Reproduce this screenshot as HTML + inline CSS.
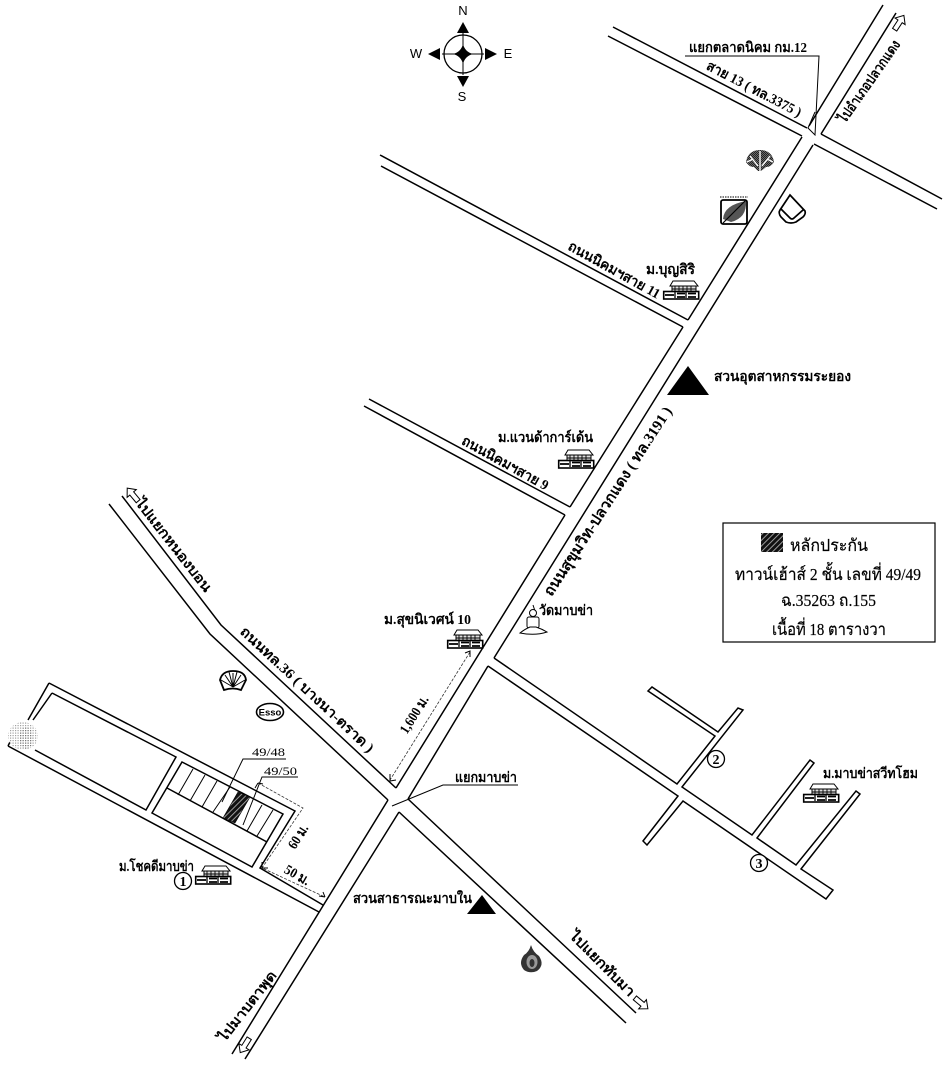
<!DOCTYPE html>
<html><head><meta charset="utf-8"><style>
html,body{margin:0;padding:0;background:#fff}
svg{display:block}
text{font-family:"Liberation Serif","Noto Serif CJK SC",serif;fill:#000}
.b{font-weight:bold;font-size:14px}
.r{font-size:17px;stroke:#000;stroke-width:.2}
.rd{fill:none;stroke:#000;stroke-width:1.5}
.th{fill:none;stroke:#000;stroke-width:1}
.d{fill:none;stroke:#333;stroke-width:.8;stroke-dasharray:3 1.5}
.ar{fill:#fff;stroke:#000;stroke-width:1}
</style></head><body>
<svg width="950" height="1075" viewBox="0 0 950 1075" xmlns="http://www.w3.org/2000/svg">
<defs>
<g id="h">
<path d="M7 6L10 1H31L35 6Z" fill="#fff" stroke="#000" stroke-width="1"/>
<rect x="9" y="6" width="24" height="6" fill="#ddd" stroke="#000"/>
<path d="M12 6v6M16 6v6M20 6v6M24 6v6M28 6v6M9 9h24" stroke="#000" stroke-width=".9"/>
<rect x="0.700" y="11.500" width="35" height="7.500" fill="#fff" stroke="#000" stroke-width="1.600"/>
<path d="M2 15h9M14 13.500h8M14 17h8M25 13.500h8M25 17h8" stroke="#000" stroke-width="1.800"/>
<path d="M12 12v6M23 12v6" stroke="#000" stroke-width="1.300"/>
</g>
<polygon id="a" points="0,-9 6,-2 2.500,-2 2.500,8 -2.500,8 -2.500,-2 -6,-2" class="ar"/>
<pattern id="hp" width="4" height="4" patternUnits="userSpaceOnUse" patternTransform="rotate(-45)">
<rect width="4" height="4" fill="#111"/><rect width="4" height=".9" fill="#aaa"/>
</pattern>
<pattern id="dots" width="2.500" height="2.500" patternUnits="userSpaceOnUse">
<rect width="1.200" height="1.200" fill="#777"/>
</pattern>
<pattern id="tr" width="2" height="2" patternUnits="userSpaceOnUse">
<rect width="2" height="2" fill="#888"/><rect width="1.300" height="1.300" fill="#222"/><rect x="1" y="1" width="1" height="1" fill="#222"/>
</pattern>
</defs>

<!-- main roads -->
<path class="rd" d="M613 27L807 128M608 36L802 136"/>
<path class="rd" d="M809 126L883 5M821 134L896 13"/>
<path class="rd" d="M821 134L942 199M814 144L937 209"/>
<path class="rd" d="M802 137L688 320M683 327L570 507M565 515L396 788"/>
<path class="rd" d="M813 145L494 658M488 666L408 799"/>
<path class="rd" d="M380 155L688 320M381 166L683 327"/>
<path class="rd" d="M369 399L570 507M364 406L565 515"/>
<path class="rd" d="M122 496L221 625L396 788M109 504L210 634L388 800"/>
<path class="rd" d="M388 800L232 1054M399 812L245 1059"/>
<path class="rd" d="M408 799L636 1013M399 812L626 1023"/>

<!-- branch SE -->
<path class="rd" d="M494 658L677 784L715 736L648 691L652 687L718 732L738 708L743 710L682 787L752 835L810 760L814 763L757 838L796 865L856 791L860 794L801 869L833 890L826 899L683 801L647 845L643 841L678 796L488 666" stroke-width="1.300"/>

<!-- estate -->
<path class="rd" d="M49 683L295 811L260 868L323 905M49 683L28 720M8 746L319 912M8 746L13 736"/>
<path class="rd" d="M52 693L176 757L146 810L35 750M52 693L33 720" stroke-width="1.300"/>
<path class="rd" d="M182 762L283 814L252 867L152 813Z" stroke-width="1.300"/>
<path class="rd" d="M167 788L267 842" stroke-width="1.300"/>
<path class="th" d="M193 769L178 795M205 775L190 801M217 781L202 807M230 787L213 812M262 805L247 831M273 810L257 836"/>
<polygon points="238,792 250,797 235,823 223,818" fill="url(#hp)" stroke="#000" stroke-width=".6"/>
<ellipse cx="23" cy="736" rx="15" ry="14" fill="#fff"/>
<ellipse cx="23" cy="736" rx="15" ry="14" fill="url(#dots)" opacity=".7"/>
<ellipse cx="26" cy="738" rx="7" ry="11" fill="url(#dots)"/>

<!-- leaders -->
<path class="th" d="M286 759H243L222 802M298 777H262L243 825"/>
<path class="th" d="M685 56H819L815 135L808 128L815 112"/>
<path class="th" d="M518 785H443L392 806"/>

<!-- dims -->
<path class="d" d="M258 783L303 808L262 868L325 897"/>
<path class="d" d="M470 652L390 780"/>
<path class="th" d="M465 653L470 651L470 657M390 774L390 781L396 780M258 783L255 788M258 783L263 784M262 868L268 868M262 868L262 862M325 897L319 896M325 897L323 892" stroke-width=".8"/>

<!-- hollow arrows -->
<use href="#a" transform="translate(899 23) rotate(33)"/>
<use href="#a" transform="translate(133 495) rotate(-40)"/>
<use href="#a" transform="translate(641 1003) rotate(130)"/>
<use href="#a" transform="translate(245 1045) rotate(212)"/>

<!-- triangles -->
<polygon points="688,366 667,395 709,395" fill="#000"/>
<polygon points="482,895 467,914 496,914" fill="#000"/>

<!-- houses -->
<use href="#h" transform="translate(663 280)"/>
<use href="#h" transform="translate(558 449)"/>
<use href="#h" transform="translate(447 629)"/>
<use href="#h" transform="translate(803 783)"/>
<use href="#h" transform="translate(195 865)"/>

<!-- Buddha -->
<g fill="#fff" stroke="#000" stroke-width="1">
<path d="M533 605L535 611" />
<circle cx="533" cy="613" r="3.500"/>
<rect x="527" y="617" width="12" height="11" rx="2"/>
<path d="M520 633Q525 629 530 627H536Q542 629 547 632Q535 636 520 633Z"/>
</g>

<!-- logos -->
<g>
<path d="M746 162Q748 150 760 150Q772 150 774 162Q771 167 766 167L761 171H758L754 167Q749 167 746 162Z" fill="url(#tr)"/>
<path d="M760 151V171M750 156L758 166M770 156L762 166M747 162L753 159M773 162L767 159" stroke="#fff" stroke-width="1.400"/>
</g>
<g>
<path d="M720 197H748" stroke="#000" stroke-width="1" stroke-dasharray="1.500 1"/>
<rect x="721" y="200" width="26" height="24" rx="2" fill="#fff" stroke="#000" stroke-width="1.800"/>
<path d="M723 219Q724 205 746 201Q747 218 731 222Z" fill="#555"/>
<path d="M723 223L746 200" stroke="#000" stroke-width="1.200"/>
</g>
<path d="M790 195L805 211Q806 214 803 217L796 222Q791 224 786 222L781 217Q778 213 780 210Z M781 209L790 218Q792 220 794 218L803 210" fill="none" stroke="#000" stroke-width="1.700"/>
<g>
<path d="M224 690L220 680Q222 671 233 671Q245 671 246 680L241 690Q233 687 224 690Z" fill="#fff" stroke="#000" stroke-width="1.800"/>
<path d="M233 687V673M233 687L229 672M233 687L237 672M233 687L225 675M233 687L241 675M233 687L221 680M233 687L245 680" stroke="#000" stroke-width="1"/>
</g>
<ellipse cx="270" cy="712" rx="13.500" ry="8.500" fill="#fff" stroke="#000" stroke-width="1.600"/>
<text x="270" y="715.500" text-anchor="middle" style="font-size:9.500px;font-weight:bold;font-family:'Liberation Sans',sans-serif">Esso</text>
<g>
<path d="M531 945Q533 952 539 956Q545 965 537 971Q530 974 524 970Q518 963 524 955Q529 952 531 945Z" fill="#333"/>
<ellipse cx="532" cy="962" rx="5.500" ry="7" fill="#999"/>
<ellipse cx="532" cy="963" rx="2.500" ry="4" fill="#333"/>
</g>

<!-- compass -->
<g>
<circle cx="463" cy="54" r="19" fill="none" stroke="#000" stroke-width="1.300"/>
<path d="M463 33V75M442 54H484" stroke="#000" stroke-width="1"/>
<path d="M463 44Q465 52 473 54Q465 56 463 64Q461 56 453 54Q461 52 463 44Z" fill="#000"/>
<polygon points="463,22 457,33 469,33" fill="#000"/>
<polygon points="463,87 457,76 469,76" fill="#000"/>
<polygon points="428,54 440,48 440,60" fill="#000"/>
<polygon points="497,54 485,48 485,60" fill="#000"/>
<g style="font-size:13px">
<text x="463" y="15" text-anchor="middle" style="font-family:'Liberation Sans',sans-serif">N</text>
<text x="462" y="101" text-anchor="middle" style="font-family:'Liberation Sans',sans-serif">S</text>
<text x="416" y="58" text-anchor="middle" style="font-family:'Liberation Sans',sans-serif">W</text>
<text x="508" y="58" text-anchor="middle" style="font-family:'Liberation Sans',sans-serif">E</text>
</g>
</g>

<!-- legend -->
<rect x="723" y="523" width="212" height="119" fill="none" stroke="#000" stroke-width="1.200"/>
<rect x="761" y="533" width="22" height="19" fill="url(#hp)"/>
<text class="r" x="790" y="551" textLength="78" lengthAdjust="spacingAndGlyphs">หลักประกัน</text>
<text class="r" x="735" y="580" textLength="186" lengthAdjust="spacingAndGlyphs">ทาวน์เฮ้าส์ 2 ชั้น เลขที่ 49/49</text>
<text class="r" x="781" y="606" textLength="95" lengthAdjust="spacingAndGlyphs">ฉ.35263 ถ.155</text>
<text class="r" x="772" y="635" textLength="114" lengthAdjust="spacingAndGlyphs">เนื้อที่ 18 ตารางวา</text>

<!-- circled numbers -->
<g fill="#fff" stroke="#000" stroke-width="1.300">
<circle cx="183" cy="881" r="8.500"/><circle cx="716" cy="759" r="8.500"/><circle cx="759" cy="863" r="8.500"/>
</g>
<g style="font-size:14px;font-weight:bold" text-anchor="middle">
<text x="183" y="886">1</text><text x="716" y="764">2</text><text x="759" y="868">3</text>
</g>

<!-- straight labels -->
<g class="b">
<text x="689" y="52" textLength="118" lengthAdjust="spacingAndGlyphs">แยกตลาดนิคม กม.12</text>
<text x="646" y="274" textLength="49" lengthAdjust="spacingAndGlyphs">ม.บุญสิริ</text>
<text x="714" y="381" textLength="137" lengthAdjust="spacingAndGlyphs">สวนอุตสาหกรรมระยอง</text>
<text x="498" y="442" textLength="95" lengthAdjust="spacingAndGlyphs">ม.แวนด้าการ์เด้น</text>
<text x="539" y="615" textLength="54" lengthAdjust="spacingAndGlyphs">วัดมาบข่า</text>
<text x="384" y="624" textLength="87" lengthAdjust="spacingAndGlyphs">ม.สุขนิเวศน์ 10</text>
<text x="823" y="778" textLength="95" lengthAdjust="spacingAndGlyphs">ม.มาบข่าสวีทโฮม</text>
<text x="119" y="871" textLength="75" lengthAdjust="spacingAndGlyphs">ม.โชคดีมาบข่า</text>
<text x="455" y="782" textLength="62" lengthAdjust="spacingAndGlyphs">แยกมาบข่า</text>
<text x="353" y="903" textLength="119" lengthAdjust="spacingAndGlyphs">สวนสาธารณะมาบใน</text>
</g>
<text x="252" y="756" textLength="33" lengthAdjust="spacingAndGlyphs" style="font-size:12px">49/48</text>
<text x="264" y="775" textLength="33" lengthAdjust="spacingAndGlyphs" style="font-size:12px">49/50</text>

<!-- rotated labels -->
<g class="b" text-anchor="middle">
<text transform="translate(752 93) rotate(27.500)" textLength="105" lengthAdjust="spacingAndGlyphs">สาย 13 ( ทล.3375 )</text>
<text transform="translate(873 84) rotate(-55)" textLength="97" lengthAdjust="spacingAndGlyphs">ไปอำเภอปลวกแดง</text>
<text transform="translate(612 274) rotate(29)" textLength="103" lengthAdjust="spacingAndGlyphs">ถนนนิคมฯสาย 11</text>
<text transform="translate(503 467) rotate(29)" textLength="97" lengthAdjust="spacingAndGlyphs">ถนนนิคมฯสาย 9</text>
<text transform="translate(612 504) rotate(-57)" textLength="222" lengthAdjust="spacingAndGlyphs" style="font-size:15px">ถนนสุขุมวิท-ปลวกแดง ( ทล.3191 )</text>
<text transform="translate(304 693) rotate(43)" textLength="177" lengthAdjust="spacingAndGlyphs">ถนนทล.36 ( บางนา-ตราด )</text>
<text transform="translate(170 548) rotate(52)" textLength="114" lengthAdjust="spacingAndGlyphs">ไปแยกหนองบอน</text>
<text transform="translate(599 967) rotate(45)" textLength="86" lengthAdjust="spacingAndGlyphs">ไปแยกทับมา</text>
<text transform="translate(251 1009) rotate(-52)" textLength="85" lengthAdjust="spacingAndGlyphs">ไปมาบตาพุด</text>
<text transform="translate(418 717) rotate(-58)" textLength="42" lengthAdjust="spacingAndGlyphs">1,600 ม.</text>
<text transform="translate(302 839) rotate(-58)" textLength="26" lengthAdjust="spacingAndGlyphs">60 ม.</text>
<text transform="translate(295 879) rotate(30)" textLength="27" lengthAdjust="spacingAndGlyphs">50 ม.</text>
</g>
</svg>
</body></html>
